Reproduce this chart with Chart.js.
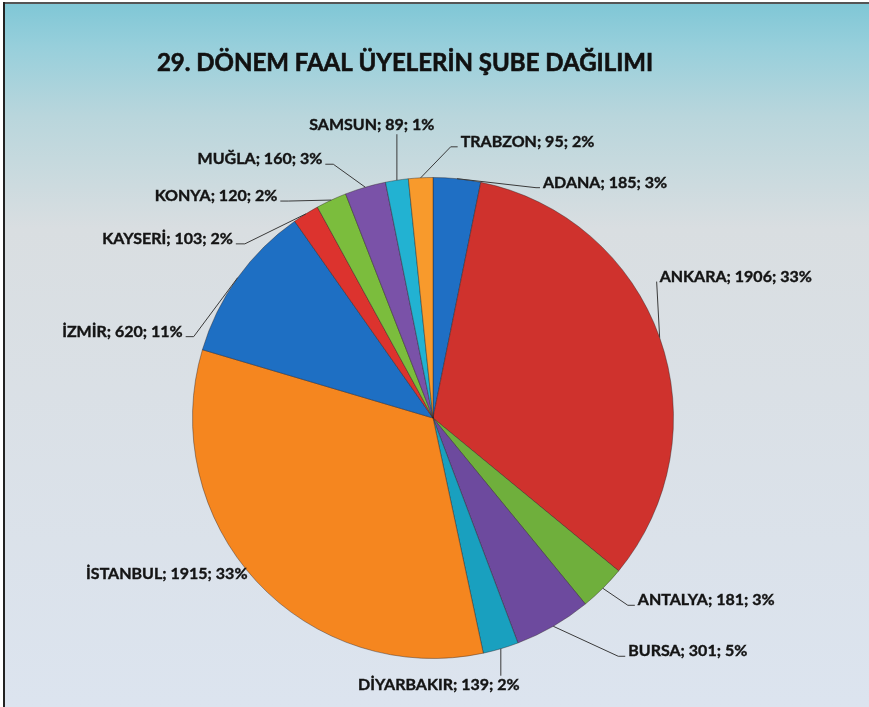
<!DOCTYPE html>
<html>
<head>
<meta charset="utf-8">
<script src="https://cdn.jsdelivr.net/npm/chart.js@4/dist/chart.umd.min.js"></script>
<style>
  html, body { margin: 0; padding: 0; background: #fff; }
  #wrap { width: 869px; height: 707px; }
</style>
</head>
<body>
<div id="wrap"><canvas id="pieChart" width="869" height="707"></canvas></div>
<script>
// Data
const chartTitle = '29. DÖNEM FAAL ÜYELERİN ŞUBE DAĞILIMI';
const branches = ['ADANA', 'ANKARA', 'ANTALYA', 'BURSA', 'DİYARBAKIR', 'İSTANBUL', 'İZMİR', 'KAYSERİ', 'KONYA', 'MUĞLA', 'SAMSUN', 'TRABZON'];
const members = [185, 1906, 181, 301, 139, 1915, 620, 103, 120, 160, 89, 95];
const shownPercents = [3, 33, 3, 5, 2, 33, 11, 2, 2, 3, 1, 2];

const sliceColors = ['#1f6fc4', '#cf322d', '#6faf3c', '#6d4a9e', '#19a0bf', '#f5861f',
                     '#1e6fc3', '#dc332e', '#7bbd3d', '#7a52a8', '#22b2d2', '#f89a2c'];

// label placement relative to the slice's outer edge point
const labelLayout = [
  { dx: 86,  dy: 4,   align: 'left',   leader: 'side', tick: 4 },
  { dx: 0,   dy: -61, align: 'left',   leader: 'side', tick: 0 },
  { dx: 35,  dy: 12,  align: 'left',   leader: 'side', tick: 7 },
  { dx: 75,  dy: 25,  align: 'left',   leader: 'side', tick: 7 },
  { dx: -62, dy: 36,  align: 'center', leader: 'down' },
  { dx: -9,  dy: -8,  align: 'right',  leader: 'none' },
  { dx: -55, dy: 54,  align: 'right',  leader: 'side', tick: 8 },
  { dx: -73, dy: 25,  align: 'right',  leader: 'side', tick: 9 },
  { dx: -54, dy: -4,  align: 'right',  leader: 'side', tick: 8 },
  { dx: -43, dy: -28, align: 'right',  leader: 'side', tick: 8 },
  { dx: -25, dy: -55, align: 'center', leader: 'up' },
  { dx: 40,  dy: -36, align: 'left',   leader: 'side', tick: 7 }
];

const labelFont = 'bold 16px Lato';

const backdrop = {
  id: 'backdrop',
  beforeDraw(chart) {
    const ctx = chart.ctx;
    const w = chart.width, h = chart.height;
    ctx.save();
    ctx.fillStyle = '#ffffff';
    ctx.fillRect(0, 0, w, h);
    const g = ctx.createLinearGradient(0, 4, 0, h);
    g.addColorStop(0, '#80c7d6');
    g.addColorStop(0.06, '#97cfdb');
    g.addColorStop(0.16, '#b9d6dc');
    g.addColorStop(0.32, '#d9dee1');
    g.addColorStop(1, '#dce4ef');
    ctx.fillStyle = g;
    ctx.fillRect(5, 4, w - 5, h - 4);
    ctx.fillStyle = '#555';
    ctx.fillRect(4, 2, w - 4, 2);
    ctx.fillStyle = '#222';
    ctx.fillRect(3, 2, 2, h - 2);
    ctx.restore();
  },
  afterDraw(chart) {
    const ctx = chart.ctx;
    ctx.save();
    ctx.fillStyle = '#111';
    ctx.strokeStyle = '#111';
    ctx.lineWidth = 0.6;
    ctx.font = 'bold 24px Lato';
    ctx.textAlign = 'center';
    ctx.textBaseline = 'middle';
    ctx.fillText(chartTitle, 405, 63);
    ctx.strokeText(chartTitle, 405, 63);
    ctx.restore();
  }
};

const pieLabels = {
  id: 'pieLabels',
  afterDatasetsDraw(chart) {
    const ctx = chart.ctx;
    const arcs = chart.getDatasetMeta(0).data;
    ctx.save();
    ctx.font = labelFont;
    ctx.textBaseline = 'middle';
    ctx.lineWidth = 1;
    arcs.forEach((arc, i) => {
      const mid = (arc.startAngle + arc.endAngle) / 2;
      const ex = arc.x + Math.cos(mid) * arc.outerRadius;
      const ey = arc.y + Math.sin(mid) * arc.outerRadius;
      const lay = labelLayout[i];
      const text = branches[i] + '; ' + members[i] + '; ' + shownPercents[i] + '%';
      const tx = ex + lay.dx, ty = ey + lay.dy;
      ctx.textAlign = lay.align;
      ctx.fillStyle = '#141414';
      ctx.strokeStyle = '#141414';
      ctx.lineWidth = 0.4;
      ctx.fillText(text, tx, ty);
      ctx.strokeText(text, tx, ty);

      ctx.strokeStyle = '#3a3a3a';
      ctx.lineWidth = 1;
      ctx.beginPath();
      if (lay.leader === 'side') {
        const dir = lay.align === 'left' ? -1 : 1;
        const endX = tx + dir * 3;
        const elbowX = endX + dir * lay.tick;
        ctx.moveTo(ex, ey);
        ctx.lineTo(elbowX, ty + 5);
        ctx.lineTo(endX, ty + 5);
      } else if (lay.leader === 'up') {
        ctx.moveTo(ex, ey);
        ctx.lineTo(ex, ty + 9);
      } else if (lay.leader === 'down') {
        ctx.moveTo(ex, ey);
        ctx.lineTo(ex, ty - 9);
      }
      ctx.stroke();
    });
    ctx.restore();
  }
};

const ctx = document.getElementById('pieChart');
new Chart(ctx, {
  type: 'pie',
  data: {
    labels: branches,
    datasets: [{
      data: members,
      backgroundColor: sliceColors,
      borderColor: 'rgba(40,30,30,0.4)',
      borderWidth: 1
    }]
  },
  options: {
    responsive: false,
    animation: false,
    layout: { padding: { left: 192, right: 195, top: 177, bottom: 48 } },
    plugins: {
      legend: { display: false },
      tooltip: { enabled: false },
      title: { display: false }
    }
  },
  plugins: [backdrop, pieLabels]
});
</script>
</body>
</html>
